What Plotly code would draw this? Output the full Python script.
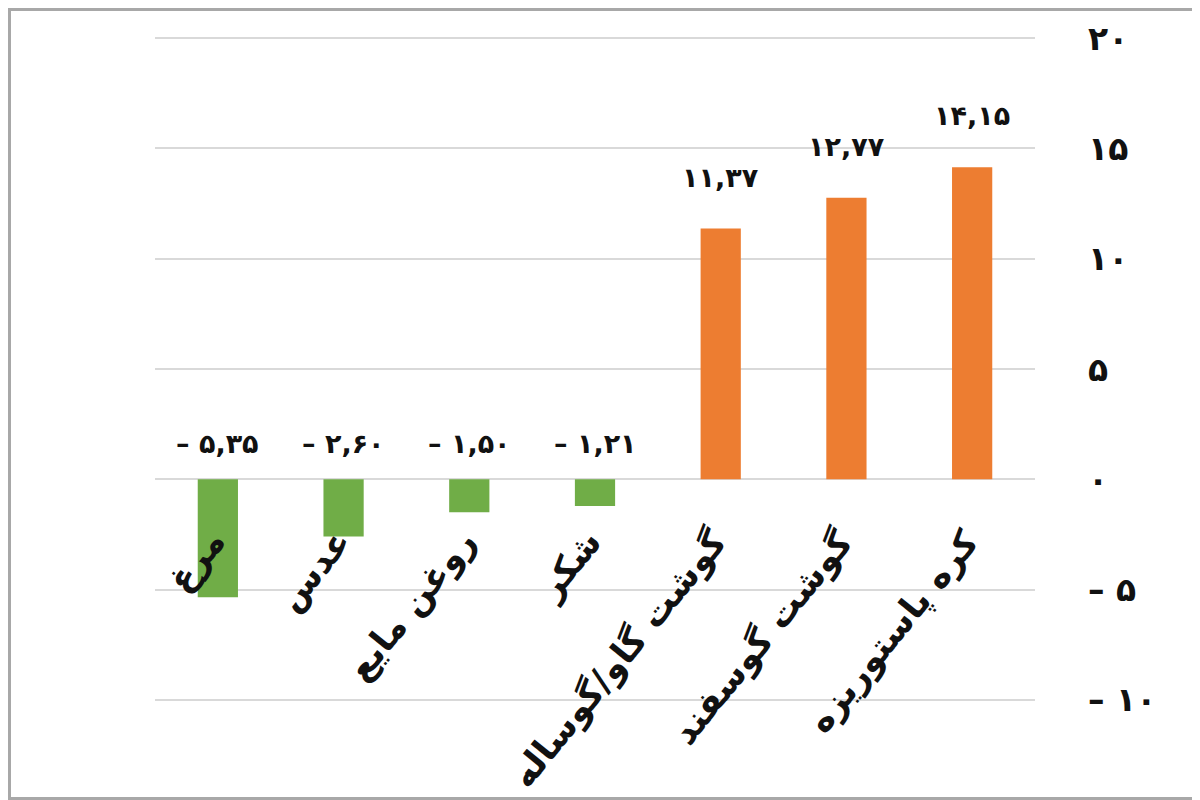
import plotly.graph_objects as go

# data
items = ["مرغ", "عدس", "روغن مایع", "شکر", "گوشت گاو/گوساله", "گوشت گوسفند", "کره پاستوریزه"]
values = [-5.35, -2.60, -1.50, -1.21, 11.37, 12.77, 14.15]
value_labels = ["– ۵,۳۵", "– ۲,۶۰", "– ۱,۵۰", "– ۱,۲۱", "۱۱,۳۷", "۱۲,۷۷", "۱۴,۱۵"]
y_ticks = [20, 15, 10, 5, 0, -5, -10]
y_tick_labels = ["۲۰", "۱۵", "۱۰", "۵", "۰", "– ۵", "– ۱۰"]

GREEN = "#70AD47"
ORANGE = "#ED7D31"
FONT = "DejaVu Sans"

# page body has an 8px margin, so keep the figure a bit smaller than the window
W, H = 1192, 792
ml, mr, mt, mb = 147, 165, 28, 98

colors = [GREEN if v < 0 else ORANGE for v in values]

fig = go.Figure(go.Bar(
    x=items, y=values,
    marker=dict(color=colors, line=dict(width=0)),
    width=0.32,
    hoverinfo="skip",
))

# value labels sit above the bar (or above zero line for negative bars)
for name, v, lab in zip(items, values, value_labels):
    fig.add_annotation(
        x=name, y=max(v, 0), text="<b>" + lab + "</b>",
        showarrow=False, yanchor="bottom",
        yshift=34 if v > 0 else 18,
        font=dict(family=FONT, size=27, color="#111111"),
    )

# category labels drawn slanted just under the zero line
for name in items:
    fig.add_annotation(
        x=name, y=0, text="<b>" + name + "</b>",
        showarrow=False, textangle=-51,
        xanchor="right", yanchor="top",
        xshift=18, yshift=-40,
        font=dict(family=FONT, size=35, color="#111111"),
    )

pw = W - ml - mr
ph = H - mt - mb
# thin grey frame around the whole picture
fig.add_shape(
    type="rect", xref="paper", yref="paper",
    x0=-(ml - 1.5) / pw, x1=1 + (mr - 1.5) / pw,
    y0=-(mb - 1.5) / ph, y1=1 + (mt - 1.5) / ph,
    line=dict(color="#a8a8a8", width=3), layer="above",
)

fig.update_layout(
    width=W, height=H,
    margin=dict(l=ml, r=mr, t=mt, b=mb),
    plot_bgcolor="white", paper_bgcolor="white",
    showlegend=False,
    xaxis=dict(showticklabels=False, showgrid=False, zeroline=False,
               showline=False, ticks=""),
    yaxis=dict(
        side="right", range=[-10.1, 20.1],
        tickvals=y_ticks, ticktext=["<b>" + t + "</b>" for t in y_tick_labels],
        showgrid=True, gridcolor="#d9d9d9", gridwidth=2,
        zeroline=True, zerolinecolor="#d9d9d9", zerolinewidth=2,
        ticks="", ticklabelstandoff=52,
        tickfont=dict(family=FONT, size=33, color="#111111"),
    ),
)

fig.write_html("out.html")
